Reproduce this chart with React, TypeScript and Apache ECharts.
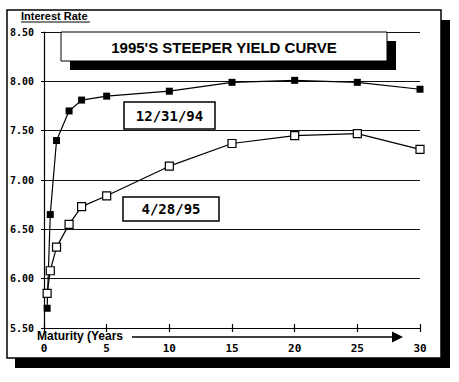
import React, { useEffect, useRef } from "react";
import * as echarts from "echarts";

const maturities = [0.25, 0.5, 1, 2, 3, 5, 10, 15, 20, 25, 30];
const dec94 = [5.7, 6.65, 7.4, 7.7, 7.81, 7.85, 7.9, 7.99, 8.01, 7.99, 7.92];
const apr95 = [5.85, 6.08, 6.32, 6.55, 6.73, 6.84, 7.14, 7.37, 7.45, 7.47, 7.31];
const titleText = "1995'S STEEPER YIELD CURVE";
const yAxisTitle = "Interest Rate";
const xAxisTitle = "Maturity (Years";
const label94 = "12/31/94";
const label95 = "4/28/95";

export default function App() {
  const ref = useRef<HTMLDivElement>(null);
  useEffect(() => {
    if (!ref.current) return;
    const chart = echarts.init(ref.current, undefined, { renderer: "svg" });
    const mono = "DejaVu Sans Mono";
    const sans = "Liberation Sans";
    const option: any = {
      animation: false,
      backgroundColor: "#fff",
      grid: { left: 44, right: 39, top: 32, bottom: 54 },
      xAxis: [
        {
          type: "value",
          min: 0,
          max: 30,
          interval: 5,
          axisLine: { show: true, lineStyle: { color: "#000", width: 1.2 } },
          axisTick: { show: true, length: 4, lineStyle: { color: "#000", width: 1.2 } },
          splitLine: { show: false },
          axisLabel: {
            margin: 15,
            color: "#000",
            fontFamily: mono,
            fontWeight: "bold",
            fontSize: 11,
          },
        },
        {
          type: "value",
          position: "bottom",
          min: 0,
          max: 30,
          interval: 5,
          axisLine: { show: false },
          axisTick: { show: true, inside: true, length: 4, lineStyle: { color: "#000", width: 1.2 } },
          splitLine: { show: false },
          axisLabel: { show: false },
        },
      ],
      yAxis: {
        type: "value",
        min: 5.5,
        max: 8.5,
        interval: 0.5,
        axisLine: { show: true, lineStyle: { color: "#000", width: 1.2 } },
        axisTick: { show: true, length: 3, lineStyle: { color: "#000" } },
        splitLine: { show: true, lineStyle: { color: "#111", width: 1 } },
        axisLabel: {
          margin: 10,
          color: "#000",
          fontFamily: mono,
          fontWeight: "bold",
          fontSize: 10,
          formatter: (v: number) => v.toFixed(2),
        },
      },
      series: [
        {
          name: label94,
          type: "line",
          data: maturities.map((m, i) => [m, dec94[i]]),
          symbol: "rect",
          symbolSize: 7,
          lineStyle: { color: "#000", width: 1.2 },
          itemStyle: { color: "#000" },
          z: 3,
        },
        {
          name: label95,
          type: "line",
          data: maturities.map((m, i) => [m, apr95[i]]),
          symbol: "rect",
          symbolSize: 8,
          lineStyle: { color: "#000", width: 1.2 },
          itemStyle: { color: "#fff", borderColor: "#000", borderWidth: 1.2 },
          z: 4,
        },
      ],
      graphic: [
        { type: "rect", shape: { x: 441, y: 20, width: 9, height: 348 }, style: { fill: "#000" } },
        { type: "rect", shape: { x: 15, y: 358, width: 435, height: 10 }, style: { fill: "#000" } },
        { type: "rect", shape: { x: 7, y: 10, width: 434, height: 348 }, style: { fill: "none", stroke: "#000", lineWidth: 1.5 } },
        {
          type: "text",
          x: 21,
          y: 16,
          style: { text: yAxisTitle, font: `bold 11px ${sans}`, fill: "#000", textVerticalAlign: "middle" },
        },
        { type: "line", shape: { x1: 21, y1: 22, x2: 90, y2: 22 }, style: { stroke: "#000", lineWidth: 1 } },
        { type: "rect", z: 100, shape: { x: 70, y: 41, width: 326, height: 29 }, style: { fill: "#000" } },
        { type: "rect", z: 101, shape: { x: 61, y: 32, width: 326, height: 29 }, style: { fill: "#fff", stroke: "#000", lineWidth: 1 } },
        {
          type: "text",
          z: 102,
          x: 224,
          y: 47,
          style: { text: titleText, font: `bold 15px ${sans}`, fill: "#000", textAlign: "center", textVerticalAlign: "middle" },
        },
        { type: "rect", z: 100, shape: { x: 124, y: 102, width: 91, height: 27 }, style: { fill: "#fff", stroke: "#000", lineWidth: 1.5 } },
        {
          type: "text",
          z: 101,
          x: 169.5,
          y: 116,
          style: { text: label94, font: `bold 14px ${mono}`, fill: "#000", textAlign: "center", textVerticalAlign: "middle" },
        },
        { type: "rect", z: 100, shape: { x: 123, y: 197, width: 96, height: 24 }, style: { fill: "#fff", stroke: "#000", lineWidth: 1.5 } },
        {
          type: "text",
          z: 101,
          x: 171,
          y: 209,
          style: { text: label95, font: `bold 14px ${mono}`, fill: "#000", textAlign: "center", textVerticalAlign: "middle" },
        },
        {
          type: "text",
          x: 37,
          y: 336,
          style: { text: xAxisTitle, font: `bold 12px ${sans}`, fill: "#000", textVerticalAlign: "middle" },
        },
        { type: "line", shape: { x1: 132, y1: 337, x2: 394, y2: 337 }, style: { stroke: "#000", lineWidth: 1.5 } },
        { type: "polygon", shape: { points: [[392, 331.5], [403, 337], [392, 342.5]] }, style: { fill: "#000" } },
      ],
    };
    chart.setOption(option);
    return () => chart.dispose();
  }, []);
  return (
    <div
      ref={ref}
      style={{ position: "fixed", left: 0, top: 0, width: 459, height: 382 }}
    />
  );
}
